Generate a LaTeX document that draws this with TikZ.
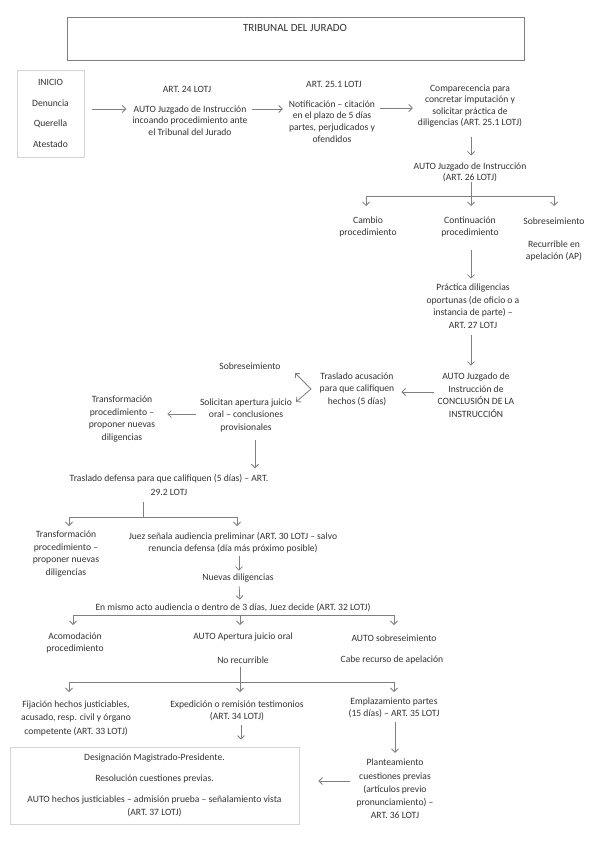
\documentclass[tikz,border=0pt]{standalone}
\usepackage{fontspec}
\setmainfont{Carlito}
\usetikzlibrary{arrows.meta}
\definecolor{lncol}{HTML}{7F7F7F}
\definecolor{txcol}{HTML}{333333}
\definecolor{bxcol}{HTML}{D4D4D4}
\begin{document}
\begin{tikzpicture}[x=1pt,y=-1pt,
  t/.style={align=center,inner sep=0pt,font=\fontsize{9.6}{12.5}\selectfont,text=txcol},
  tt/.style={t,font=\fontsize{9.6}{11.6}\selectfont},
  arr/.style={draw=lncol,line width=0.8pt,-{Straight Barb[length=3.5pt,width=7pt]}},
  lnk/.style={draw=lncol,line width=0.8pt}]
\useasboundingbox[fill=white] (0,0) rectangle (599,848);

% title
\node[draw=lncol,line width=1.1pt,minimum width=457pt,minimum height=43pt,inner sep=0pt,anchor=north west] (titlebox) at (67,17) {};
\node[t,font=\fontsize{11}{12}\selectfont] (title) at (295,28) {TRIBUNAL DEL JURADO};

% first row
\node[draw=bxcol,line width=0.8pt,minimum width=67pt,minimum height=87pt,t,font=\fontsize{9.6}{20.7}\selectfont] (inicio) at (50.5,113.5) {INICIO\\Denuncia\\Querella\\Atestado};
\node[t] (art24) at (187,89) {ART. 24 LOTJ};
\node[tt] (auto24) at (190,120.5) {AUTO Juzgado de Instrucción\\incoando procedimiento ante\\el Tribunal del Jurado};
\node[t] (art251) at (334,84) {ART. 25.1 LOTJ};
\node[tt] (notif) at (332,121.5) {Notificación – citación\\en el plazo de 5 días\\partes, perjudicados y\\ofendidos};
\node[tt] (compar) at (470,106) {Comparecencia para\\concretar imputación y\\solicitar práctica de\\diligencias (ART. 25.1 LOTJ)};

\node[tt] (auto26) at (470,172.5) {AUTO Juzgado de Instrucción\\(ART. 26 LOTJ)};
\node[t] (cambio) at (368,227) {Cambio\\procedimiento};
\node[t] (contin) at (470,227) {Continuación\\procedimiento};
\node[t] (sobre1) at (554,221) {Sobreseimiento};
\node[t] (recur) at (554,251) {Recurrible en\\apelación (AP)};

\node[t] (practica) at (473,306) {Práctica diligencias\\oportunas (de oficio o a\\instancia de parte) –\\ART. 27 LOTJ};
\node[t] (concl) at (476,395) {AUTO Juzgado de\\Instrucción de\\CONCLUSIÓN DE LA\\INSTRUCCIÓN};
\node[t] (trasac) at (357,389) {Traslado acusación\\para que califiquen\\hechos (5 días)};
\node[t] (sobre2) at (250,366) {Sobreseimiento};
\node[t] (solic) at (246,415) {Solicitan apertura juicio\\oral – conclusiones\\provisionales};
\node[t] (transfa) at (122,419) {Transformación\\procedimiento –\\proponer nuevas\\diligencias};

\node[t,font=\fontsize{9.6}{14}\selectfont] (trasdef) at (169,485) {Traslado defensa para que califiquen (5 días) – ART.\\29.2 LOTJ};
\node[t] (transfb) at (66,554) {Transformación\\procedimiento –\\proponer nuevas\\diligencias};
\node[t] (juez) at (233,543) {Juez señala audiencia preliminar (ART. 30 LOTJ – salvo\\renuncia defensa (día más próximo posible)};
\node[t] (nuevas) at (238,578) {Nuevas diligencias};
\node[t] (mismo) at (233,608) {En mismo acto audiencia o dentro de 3 días, Juez decide (ART. 32 LOTJ)};

\node[t] (acomod) at (75,643) {Acomodación\\procedimiento};
\node[t] (apert) at (243,637) {AUTO Apertura juicio oral};
\node[t] (norec) at (243,660) {No recurrible};
\node[t] (autosob) at (394,638) {AUTO sobreseimiento};
\node[t] (cabe) at (392,660) {Cabe recurso de apelación};

\node[t,font=\fontsize{9.6}{13.5}\selectfont] (fijacion) at (76,718) {Fijación hechos justiciables,\\acusado, resp. civil y órgano\\competente (ART. 33 LOTJ)};
\node[t] (exped) at (237,711) {Expedición o remisión testimonios\\(ART. 34 LOTJ)};
\node[tt] (emplaz) at (394,708) {Emplazamiento partes\\(15 días) – ART. 35 LOTJ};

\node[draw=bxcol,line width=0.8pt,minimum width=289pt,minimum height=77pt,t] (bigbox) at (154.5,785.5) {Designación Magistrado-Presidente.\\[8.5pt]Resolución cuestiones previas.\\[8.5pt]AUTO hechos justiciables – admisión prueba – señalamiento vista\\(ART. 37 LOTJ)};
\node[t,font=\fontsize{9.6}{13.3}\selectfont] (plante) at (395,789) {Planteamiento\\cuestiones previas\\(artículos previo\\pronunciamiento) –\\ART. 36 LOTJ};

% connectors
\draw[arr,shorten <=8pt,shorten >=6pt] (inicio.east |- 0,109) -- (auto24.west |- 0,109);
\draw[arr,shorten <=4pt,shorten >=6pt] (auto24.east |- 0,109) -- (notif.west |- 0,109);
\draw[arr,shorten <=5pt,shorten >=5pt] (notif.east |- 0,108) -- (compar.west |- 0,108);
\draw[arr,shorten <=9pt,shorten >=7pt] ([xshift=1pt]compar.south) -- ([xshift=1pt]auto26.north);

\coordinate (bara) at (0,196);
\draw[lnk] ([xshift=1pt]auto26.south) -- ([xshift=1pt]auto26.south |- bara);
\draw[lnk] ([xshift=-2pt]cambio.north |- bara) -- (sobre1.north |- bara);
\draw[arr] ([xshift=-2pt]cambio.north |- bara) -- ([xshift=-2pt,yshift=-10pt]cambio.north |- bara);
\draw[arr] ([xshift=1pt]contin.north |- bara) -- ([xshift=1pt,yshift=-10pt]contin.north |- bara);
\draw[arr] (sobre1.north |- bara) -- ([yshift=-10pt]sobre1.north |- bara);

\draw[arr,shorten <=12pt,shorten >=5pt] ([xshift=1pt]contin.south) -- ([xshift=-2pt]practica.north);
\draw[arr,shorten <=7pt,shorten >=7pt] ([xshift=-2pt]practica.south) -- ([xshift=-5pt]concl.north);
\draw[arr,shorten <=4pt,shorten >=7pt] (concl.west |- 0,392) -- (trasac.east |- 0,392);

\coordinate (vtx) at (311,389);
\coordinate (tipsob) at (295,373);
\coordinate (tipsol) at (296,402);
\draw[arr] (vtx) -- (tipsob);
\draw[arr] (vtx) -- (tipsol);
\draw[arr,shorten <=4pt,shorten >=12pt] (solic.west |- 0,414) -- (transfa.east |- 0,414);
\draw[arr,shorten <=8pt,shorten >=6pt] ([xshift=9pt]solic.south) -- ([xshift=9pt]solic.south |- trasdef.north);

\coordinate (barb) at (0,517);
\draw[lnk,shorten <=6pt] ([xshift=-26pt]trasdef.south) -- ([xshift=-26pt]trasdef.south |- barb);
\draw[lnk] ([xshift=3pt]transfb.north |- barb) -- ([xshift=4pt]juez.north |- barb);
\draw[arr] ([xshift=3pt]transfb.north |- barb) -- ([xshift=3pt,yshift=-9pt]transfb.north |- barb);
\draw[arr] ([xshift=4pt]juez.north |- barb) -- ([xshift=4pt,yshift=-9pt]juez.north |- barb);

\draw[arr,shorten <=2pt,shorten >=3pt] ([xshift=6pt]juez.south) -- ([xshift=1pt]nuevas.north);
\draw[arr,shorten <=4pt,shorten >=4pt] ([xshift=1pt]nuevas.south) -- ([xshift=7pt]mismo.north);

\coordinate (barc) at (0,615);
\draw[lnk] ([xshift=-2pt]acomod.north |- barc) -- (autosob.north |- barc);
\draw[arr] ([xshift=-2pt]acomod.north |- barc) -- ([xshift=-2pt,yshift=-10pt]acomod.north |- barc);
\draw[arr] ([xshift=-3pt]apert.north |- barc) -- ([xshift=-3pt,yshift=-10pt]apert.north |- barc);
\draw[arr] (autosob.north |- barc) -- ([yshift=-10pt]autosob.north |- barc);

\coordinate (bard) at (0,682);
\draw[lnk,shorten <=3pt] ([xshift=-3pt]norec.south) -- ([xshift=-3pt]norec.south |- bard);
\draw[lnk] ([xshift=-7pt]fijacion.north |- bard) -- (emplaz.north |- bard);
\draw[arr] ([xshift=-7pt]fijacion.north |- bard) -- ([xshift=-7pt,yshift=-10pt]fijacion.north |- bard);
\draw[arr] ([xshift=3pt]exped.north |- bard) -- ([xshift=3pt,yshift=-10pt]exped.north |- bard);
\draw[arr] (emplaz.north |- bard) -- ([yshift=-10pt]emplaz.north |- bard);

\draw[arr,shorten <=4pt,shorten >=7pt] ([xshift=4pt]exped.south) -- ([xshift=4pt]exped.south |- bigbox.north);
\draw[arr,shorten <=4pt,shorten >=6pt] ([xshift=1pt]emplaz.south) -- (plante.north);
\draw[arr,shorten <=6pt,shorten >=19pt] (plante.west |- 0,781) -- (bigbox.east |- 0,781);
\end{tikzpicture}
\end{document}
